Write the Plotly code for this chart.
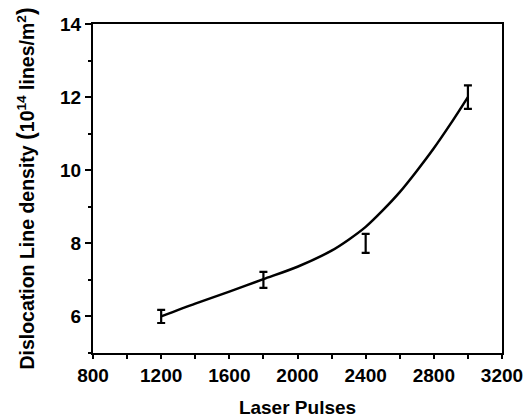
import plotly.graph_objects as go

# measured points with error bars
pulses = [1200, 1800, 2400, 3000]
density = [6.0, 7.0, 8.0, 12.0]
density_err = [0.18, 0.22, 0.26, 0.32]

# fitted smooth curve
curve_x = [1200, 1400, 1600, 1800, 2000, 2200, 2300, 2400, 2500, 2600, 2700, 2800, 2900, 3000]
curve_y = [6.0, 6.35, 6.68, 7.02, 7.36, 7.8, 8.1, 8.45, 8.9, 9.4, 9.98, 10.6, 11.28, 12.0]

x_ticks = [800, 1200, 1600, 2000, 2400, 2800, 3200]
y_ticks = [6, 8, 10, 12, 14]

fig = go.Figure()
fig.add_trace(go.Scatter(x=curve_x, y=curve_y, mode="lines",
                         line=dict(color="black", width=2.5, shape="spline", smoothing=0.8),
                         showlegend=False, hoverinfo="skip"))
fig.add_trace(go.Scatter(x=pulses, y=density, mode="markers",
                         marker=dict(size=1, color="rgba(0,0,0,0)"),
                         error_y=dict(type="data", array=density_err, visible=True,
                                      color="black", thickness=2.2, width=4),
                         showlegend=False))

font = "Liberation Sans, Arial, sans-serif"
# the page body adds an 8px margin, so the figure is sized to fit in what remains
fig.update_layout(
    width=523, height=410,
    margin=dict(l=85, r=29, t=16, b=65),
    paper_bgcolor="white", plot_bgcolor="white",
    font=dict(family=font, color="black"),
    xaxis=dict(range=[800, 3200], tickvals=x_ticks, ticktext=[f"<b>{v}</b>" for v in x_ticks],
               tickfont=dict(size=19, family=font), automargin=False,
               ticks="outside", ticklen=4, tickwidth=2, tickcolor="black",
               minor=dict(dtick=200, tick0=800, ticks="outside", ticklen=4, tickwidth=2, tickcolor="black"),
               showline=True, linewidth=2, linecolor="black", mirror=True,
               showgrid=False, zeroline=False,
               title=dict(text="<b>Laser Pulses</b>", font=dict(size=19, family=font), standoff=22)),
    yaxis=dict(range=[5, 14], tickvals=y_ticks, ticktext=[f"<b>{v}</b>" for v in y_ticks],
               tickfont=dict(size=19, family=font), automargin=False,
               ticks="outside", ticklen=6, tickwidth=2, tickcolor="black",
               minor=dict(dtick=1, tick0=5, ticks="outside", ticklen=3, tickwidth=2, tickcolor="black"),
               showline=True, linewidth=2, linecolor="black", mirror=True,
               showgrid=False, zeroline=False,
               title=dict(text="<b>Dislocation Line density <span style='font-size:23px'>(</span>10<sup>14</sup> lines/m<sup>2</sup><span style='font-size:23px'>)</span></b>",
                          font=dict(size=19.5, family=font), standoff=20)),
)
fig.write_html("out.html")
